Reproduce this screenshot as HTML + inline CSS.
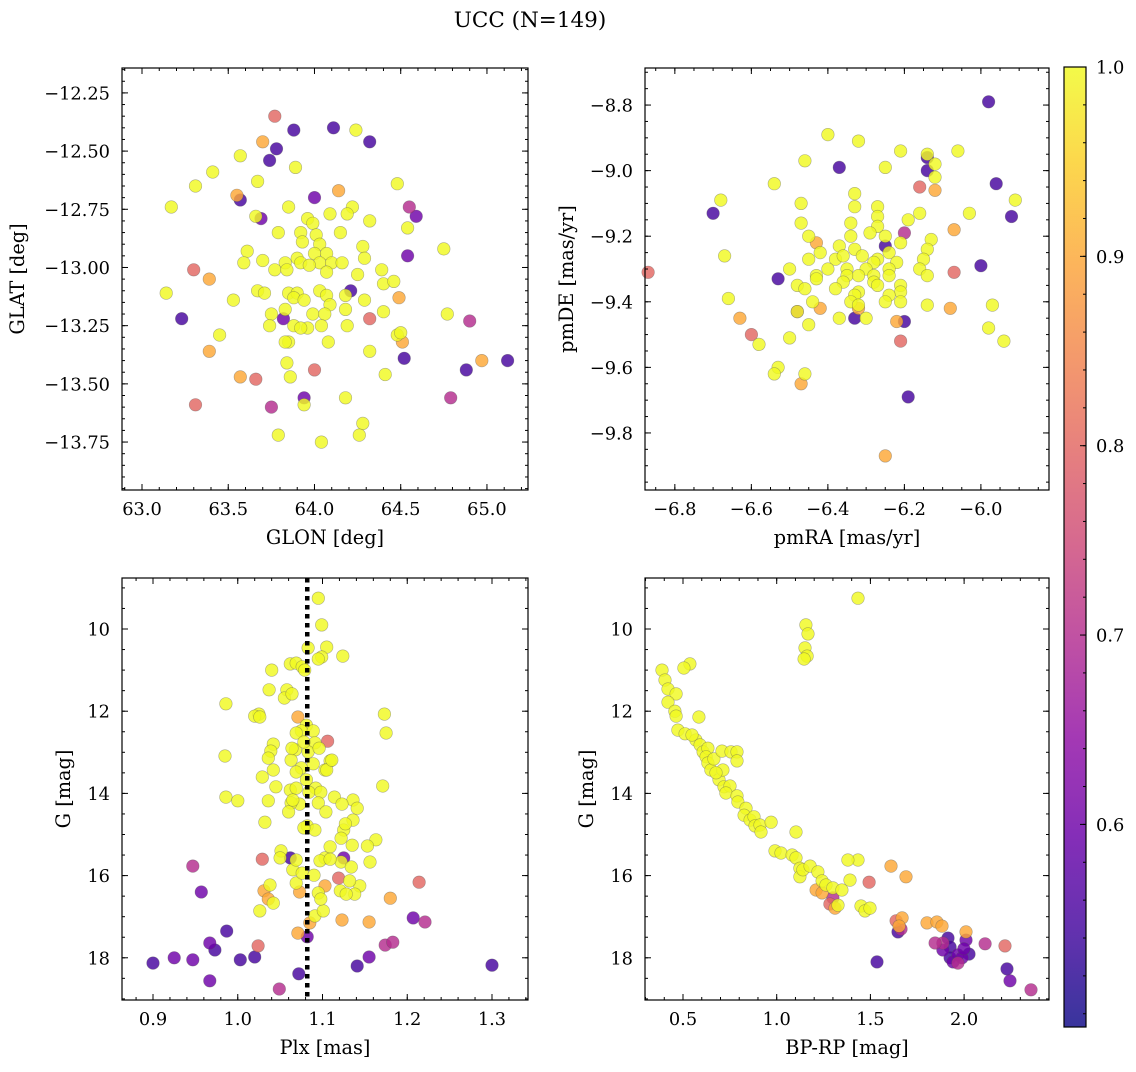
<!DOCTYPE html>
<html><head><meta charset="utf-8"><style>
html,body{margin:0;padding:0;background:#fff;}
svg text{font-family:"DejaVu Serif","Liberation Serif",serif;fill:#000;}
</style></head><body>
<svg id="fig" width="1136" height="1067" viewBox="0 0 1136 1067" xmlns="http://www.w3.org/2000/svg">
<text x="530" y="27" font-size="21.5" text-anchor="middle">UCC (N=149)</text>
</svg>
<script>
// ---- Panel 1: GLON / GLAT ----
const glon1=[63.77,63.88,64.11,64.24,64.32,63.70,63.78,63.74,63.57,63.41,
63.89,63.31,63.67,64.48,63.55,63.57,64.14,64.00,63.17,63.85,
64.22,64.09,64.19,64.55,64.59,63.66,63.69,63.96,64.54,63.99,
64.32,63.92,64.15,64.01,63.79,63.61,63.93,64.03,64.28,64.75,
64.29,64.07,63.90,64.00,63.92,64.03,64.10,64.16,64.54,63.59,
63.70,63.83,63.97,63.77,64.07,63.30,63.39,64.25,64.39,64.40,
64.46,64.21,64.18,63.67,63.71,63.85,63.90,64.03,64.07,63.14,
63.53,63.88,63.94,64.09,64.29,64.49,63.75,63.83,63.99,64.06,
64.18,64.40,63.82,63.23,64.32,64.77,64.90,63.45,63.74,63.88,
63.96,64.04,64.19,63.85,64.08,64.32,64.48,64.50,63.83,63.39,
64.51,64.52,63.84,64.00,63.66,63.57,63.86,64.41,64.88,64.97,
65.12,63.94,63.94,63.75,63.31,64.18,64.79,64.28,64.26,63.79,
64.04,63.92,63.84];
const glat1=[-12.35,-12.41,-12.40,-12.41,-12.46,-12.46,-12.49,-12.54,-12.52,-12.59,
-12.57,-12.65,-12.63,-12.64,-12.69,-12.71,-12.67,-12.70,-12.74,-12.74,
-12.74,-12.77,-12.77,-12.74,-12.78,-12.78,-12.79,-12.79,-12.83,-12.81,
-12.80,-12.85,-12.85,-12.86,-12.85,-12.93,-12.89,-12.90,-12.91,-12.92,
-12.96,-12.94,-12.96,-12.94,-12.98,-12.98,-12.98,-12.98,-12.95,-12.98,
-12.97,-12.98,-12.99,-13.01,-13.02,-13.01,-13.05,-13.03,-13.01,-13.07,
-13.06,-13.10,-13.12,-13.10,-13.11,-13.11,-13.11,-13.10,-13.12,-13.11,
-13.14,-13.13,-13.14,-13.16,-13.14,-13.13,-13.20,-13.18,-13.20,-13.20,
-13.18,-13.19,-13.22,-13.22,-13.22,-13.20,-13.23,-13.29,-13.25,-13.25,
-13.26,-13.25,-13.25,-13.32,-13.32,-13.36,-13.29,-13.28,-13.32,-13.36,
-13.32,-13.39,-13.41,-13.44,-13.48,-13.47,-13.47,-13.46,-13.44,-13.40,
-13.40,-13.56,-13.59,-13.60,-13.59,-13.56,-13.56,-13.67,-13.72,-13.72,
-13.75,-13.26,-13.01];
const prob1=[0.8,0.55,0.55,1,0.55,0.9,0.55,0.55,1,1,
1,1,1,1,0.9,0.55,0.9,0.6,1,1,
1,1,1,0.7,0.6,1,0.6,1,1,1,
1,1,1,1,1,1,1,1,1,1,
1,1,1,1,1,1,1,1,0.6,1,
1,1,1,1,1,0.8,0.9,1,1,1,
1,0.55,1,1,1,1,1,1,1,1,
1,1,1,1,1,0.9,1,1,1,1,
1,1,0.6,0.55,0.8,1,0.7,1,1,1,
1,1,1,1,1,1,1,1,1,0.9,
0.9,0.55,1,0.8,0.8,0.9,1,1,0.55,0.9,
0.55,0.6,1,0.7,0.8,1,0.7,1,1,1,
1,1,1];
// ---- Panel 2: pmRA / pmDE ----
const pmra2=[-5.98,-6.40,-6.06,-6.32,-6.14,-6.21,-6.46,-6.25,-6.37,-6.14,
-6.14,-6.12,-6.12,-5.96,-6.54,-6.12,-6.33,-6.16,-6.68,-6.70,
-5.91,-6.47,-6.33,-6.27,-6.16,-6.03,-5.92,-6.27,-6.19,-6.34,
-6.47,-6.27,-6.07,-6.20,-6.45,-6.34,-6.29,-6.25,-6.21,-6.43,
-6.13,-6.14,-6.37,-6.25,-6.33,-6.24,-6.42,-6.31,-6.27,-6.38,
-6.36,-6.67,-6.45,-6.28,-6.22,-6.15,-6.35,-6.24,-6.16,-6.30,
-6.40,-6.07,-6.00,-6.87,-6.50,-6.43,-6.35,-6.32,-6.28,-6.24,
-6.14,-6.53,-6.43,-6.48,-6.36,-6.28,-6.21,-6.46,-6.38,-6.32,
-6.27,-6.21,-6.66,-6.33,-6.24,-6.44,-6.34,-6.42,-6.48,-6.32,
-6.25,-6.21,-6.14,-6.08,-5.97,-6.32,-6.48,-6.33,-6.30,-6.63,
-6.20,-6.22,-6.45,-5.98,-6.37,-6.60,-6.50,-6.21,-6.58,-5.94,
-6.53,-6.54,-6.46,-6.47,-6.19,-6.25];
const pmde2=[-8.79,-8.89,-8.94,-8.91,-8.95,-8.94,-8.97,-8.99,-8.99,-8.96,
-9.00,-8.98,-9.02,-9.04,-9.04,-9.06,-9.07,-9.05,-9.09,-9.13,
-9.09,-9.10,-9.11,-9.11,-9.13,-9.13,-9.14,-9.14,-9.15,-9.16,
-9.16,-9.17,-9.18,-9.19,-9.20,-9.20,-9.19,-9.20,-9.22,-9.22,
-9.21,-9.24,-9.23,-9.23,-9.24,-9.25,-9.25,-9.26,-9.27,-9.27,
-9.26,-9.26,-9.27,-9.28,-9.28,-9.27,-9.30,-9.30,-9.30,-9.30,
-9.30,-9.31,-9.29,-9.31,-9.30,-9.32,-9.32,-9.32,-9.32,-9.32,
-9.32,-9.33,-9.33,-9.35,-9.34,-9.34,-9.35,-9.36,-9.36,-9.37,
-9.35,-9.37,-9.39,-9.38,-9.38,-9.40,-9.40,-9.42,-9.43,-9.41,
-9.40,-9.40,-9.41,-9.42,-9.41,-9.42,-9.43,-9.45,-9.45,-9.45,
-9.46,-9.46,-9.47,-9.48,-9.45,-9.50,-9.51,-9.52,-9.53,-9.52,
-9.60,-9.62,-9.62,-9.65,-9.69,-9.87];
const prob2=[0.55,1,1,1,1,1,1,1,0.55,0.55,
0.55,1,1,0.55,1,0.9,1,0.8,1,0.55,
1,1,1,1,1,1,0.55,1,1,1,
1,1,0.9,0.7,1,1,1,1,1,0.9,
1,1,1,0.55,1,1,1,1,1,1,
1,1,1,1,1,1,1,1,1,1,
1,0.8,0.55,0.8,1,1,1,1,1,1,
1,0.55,1,1,1,1,1,1,1,1,
1,1,1,1,1,1,1,0.9,1,1,
1,1,1,0.9,1,0.9,0.7,0.55,1,0.9,
0.55,0.9,1,1,1,0.8,1,0.8,1,1,
1,1,1,0.9,0.55,0.9];
// ---- Panel 3: Plx / G ----
const plx3=[1.095,1.099,1.083,1.105,1.124,1.099,1.095,1.040,1.062,1.069,
1.076,1.058,1.055,1.064,1.037,0.986,1.025,1.020,1.026,1.071,
1.173,1.081,1.175,1.075,1.089,1.042,1.091,1.068,1.039,1.083,
1.096,1.063,0.985,1.042,1.075,1.069,1.089,1.106,1.109,1.103,
1.081,1.062,1.092,1.045,1.069,1.084,1.098,1.171,1.136,1.095,
1.036,1.073,1.063,1.104,1.141,1.032,1.082,1.125,1.136,1.091,
1.078,1.122,0.986,1.000,1.029,1.036,1.079,1.064,1.069,1.078,
1.060,1.065,1.114,1.123,1.105,1.111,1.127,1.135,1.122,1.134,
1.144,1.138,1.163,1.153,1.156,1.132,1.029,1.031,1.036,1.038,
1.042,1.026,1.062,1.051,1.050,1.069,1.065,1.069,1.076,1.073,
1.071,1.082,1.085,1.091,1.095,1.090,1.101,1.098,1.103,1.103,
1.097,1.109,1.109,1.119,1.125,1.121,1.128,1.123,1.155,1.180,
1.141,1.155,1.174,1.183,1.207,1.221,1.214,1.300,0.900,0.925,
0.947,0.947,0.957,0.967,0.973,0.967,0.987,1.003,1.020,1.024,
1.049,1.072];
const g3=[9.25,9.90,10.46,10.44,10.66,10.68,10.73,11.00,10.85,10.83,
10.92,11.48,11.68,11.58,11.48,11.82,12.07,12.12,12.14,12.14,
12.07,12.34,12.53,12.48,12.48,12.80,12.77,12.94,12.97,12.99,
12.90,13.19,13.09,13.43,13.38,13.48,13.28,12.73,13.21,13.43,
13.67,13.92,13.87,13.84,13.87,13.97,13.97,13.82,14.16,14.23,
14.18,14.26,14.23,14.45,14.36,14.70,14.79,14.89,14.65,14.89,
14.84,15.09,14.09,14.18,13.60,13.14,11.00,12.90,12.53,12.75,
14.45,14.16,14.09,14.26,13.43,13.19,14.74,15.26,15.67,15.79,
16.25,16.45,15.13,15.28,15.67,16.13,15.60,16.37,16.57,16.23,
16.67,16.86,15.57,15.40,15.57,16.18,15.86,15.62,15.94,16.40,
17.40,17.49,17.15,16.98,16.42,15.99,16.86,16.57,16.25,15.57,
15.64,15.30,15.60,16.06,15.57,16.37,16.45,17.08,17.13,16.55,
18.20,17.98,17.69,17.62,17.03,17.13,16.16,18.18,18.13,18.00,
18.05,15.77,16.40,17.64,17.81,18.56,17.35,18.05,17.98,17.71,
18.76,18.39];
const prob3=[1,1,1,1,1,1,1,1,1,1,
1,1,1,1,1,1,1,1,1,0.9,
1,1,1,1,1,1,1,1,1,1,
1,1,1,1,1,1,1,0.8,1,1,
1,1,1,1,1,1,1,1,1,1,
1,1,1,1,1,1,1,1,1,1,
1,1,1,1,1,1,1,1,1,1,
1,1,1,1,1,1,1,1,1,1,
1,1,1,1,1,1,0.8,0.9,0.9,1,
1,1,0.55,1,1,1,1,1,1,0.9,
0.9,0.6,0.9,1,1,1,1,1,0.9,1,
1,1,1,0.8,0.6,1,1,0.9,0.9,0.9,
0.55,0.6,0.7,0.7,0.6,0.7,0.8,0.55,0.55,0.6,
0.6,0.7,0.6,0.6,0.55,0.6,0.55,0.55,0.55,0.8,
0.7,0.55];
const plxLine=1.082;
// ---- Panel 4: BP-RP / G ----
const bprp4=[1.434,1.156,1.167,1.151,1.162,1.146,0.388,0.537,0.505,0.404,
0.420,0.463,0.420,0.457,0.463,0.585,0.473,0.511,0.569,0.548,
0.591,0.607,0.633,0.623,0.633,0.649,0.665,0.708,0.756,0.788,
0.788,0.692,0.713,0.676,0.719,0.751,0.729,0.788,0.793,0.836,
0.826,0.858,0.879,0.884,0.911,0.916,0.970,0.991,1.023,1.082,
1.103,1.124,1.124,1.140,1.178,1.103,1.220,1.242,1.263,1.300,
1.348,1.391,1.434,1.380,1.210,1.242,1.284,1.311,1.327,1.300,
1.493,1.610,1.690,1.450,1.471,1.498,1.637,1.669,1.653,1.663,
1.647,1.535,1.802,1.855,1.882,1.887,1.845,1.887,1.914,1.925,
1.925,1.941,1.967,1.989,1.967,2.010,2.112,2.026,2.010,2.218,
2.229,2.245,2.357,1.999];
const g4=[9.25,9.90,10.12,10.46,10.66,10.73,11.00,10.85,10.95,11.24,
11.46,11.58,11.78,12.00,12.12,12.14,12.46,12.55,12.70,12.58,
12.82,12.99,12.90,13.11,13.26,13.43,13.16,12.97,12.99,12.99,
13.21,13.67,13.43,13.50,13.84,13.82,13.99,14.06,14.21,14.36,
14.53,14.65,14.57,14.79,14.77,14.94,14.70,15.40,15.45,15.50,
15.57,15.82,16.03,15.86,15.77,14.94,15.91,16.13,16.23,16.30,
16.35,16.11,15.62,15.62,16.35,16.42,16.69,16.79,16.72,16.54,
16.16,15.77,16.03,16.74,16.86,16.79,17.10,17.03,17.23,17.30,
17.37,18.10,17.15,17.13,17.23,17.64,17.64,17.81,17.52,17.74,
18.00,18.10,17.93,18.00,18.13,17.57,17.66,17.91,17.37,17.71,
18.27,18.56,18.78,17.78];
const prob4=[1,1,1,1,1,1,1,1,1,1,
1,1,1,1,1,1,1,1,1,1,
1,1,1,1,1,1,1,1,1,1,
1,1,1,1,1,1,1,1,1,1,
1,1,1,1,1,1,1,1,1,1,
1,1,1,1,1,1,1,1,1,1,
1,1,1,1,0.9,0.9,0.8,0.9,1,0.7,
0.8,0.9,0.9,1,1,1,0.8,0.9,0.9,0.7,
0.55,0.55,0.9,0.9,0.9,0.7,0.7,0.6,0.55,0.55,
0.55,0.6,0.6,0.6,0.7,0.6,0.7,0.55,0.9,0.8,
0.55,0.6,0.7,0.6];
// ---- colour scale ----
const cTicks=[0.6,0.7,0.8,0.9,1.0];
const cMin=0.493, cMax=1.0;

const NS='http://www.w3.org/2000/svg';
const svg=document.getElementById('fig');
const plasma=[[13,8,135],[65,4,157],[106,0,168],[143,13,164],[177,42,144],[204,71,120],[225,100,98],[242,132,75],[252,166,54],[252,206,37],[240,249,33]];
function cmap(v){let t=(v-cMin)/(cMax-cMin);t=Math.max(0,Math.min(1,t))*10;const i=Math.min(9,Math.floor(t)),f=t-i;const a=plasma[i],b=plasma[i+1];return 'rgb('+a.map((c,k)=>Math.round(c+(b[k]-c)*f)).join(',')+')';}
function mk(tag,attrs,parent){const e=document.createElementNS(NS,tag);for(const k in attrs)e.setAttribute(k,attrs[k]);(parent||svg).appendChild(e);return e;}
function fmt(v,d){const s=Math.abs(v).toFixed(d);return (v<-1e-9?'\u2212':'')+s;}
const TF=17.8, LF=19.3;

function panel(p){
  const g=mk('g',{});
  
  
  const [L,T,R,B]=p.box;
  const sx=v=>L+(v-p.xlim[0])/(p.xlim[1]-p.xlim[0])*(R-L);
  const sy=v=>T+(v-p.ylim[0])/(p.ylim[1]-p.ylim[0])*(B-T);
  const idx=p.xs.map((_,i)=>i).filter(i=>i<p.ys.length&&i<p.cs.length);
  idx.sort((a,b)=>p.cs[a]-p.cs[b]);
  idx.forEach(i=>{
    const c=mk('circle',{cx:sx(p.xs[i]).toFixed(1),cy:sy(p.ys[i]).toFixed(1),r:6.3,fill:cmap(p.cs[i]),'fill-opacity':0.82,stroke:'#555','stroke-opacity':0.45,'stroke-width':0.6},g);
    
    
  });
  if(p.vline!==undefined){
    const l=mk('line',{x1:sx(p.vline),x2:sx(p.vline),y1:T,y2:B,stroke:'#000','stroke-width':4.5,'stroke-dasharray':'4.5,4.5'},g);
    
    
  }
  const fr=mk('rect',{x:L,y:T,width:R-L,height:B-T,fill:'none',stroke:'#000','stroke-width':1.2},g);
  
  
  const tk=(x1,y1,x2,y2)=>mk('line',{x1,y1,x2,y2,stroke:'#000','stroke-width':1},g);
  function eachTick(lo,hi,step,cb){const a=Math.min(lo,hi),b=Math.max(lo,hi);for(let k=Math.ceil(a/step-1e-6);k*step<=b+1e-9;k++)cb(k*step);}
  eachTick(p.xlim[0],p.xlim[1],p.xminor,v=>{const x=sx(v);tk(x,B,x,B-3);tk(x,T,x,T+3);});
  eachTick(p.ylim[0],p.ylim[1],p.yminor,v=>{const y=sy(v);tk(L,y,L+3,y);tk(R,y,R-3,y);});
  eachTick(p.xlim[0],p.xlim[1],p.xmajor,v=>{const x=sx(v);tk(x,B,x,B-6);tk(x,T,x,T+6);
    const t=mk('text',{x:x,y:B+25,'font-size':TF,'text-anchor':'middle'},g);t.textContent=fmt(v,p.xd);
    
    });
  eachTick(p.ylim[0],p.ylim[1],p.ymajor,v=>{const y=sy(v);tk(L,y,L+6,y);tk(R,y,R-6,y);
    const t=mk('text',{x:L-12,y:y+6.5,'font-size':TF,'text-anchor':'end'},g);t.textContent=fmt(v,p.yd);
    
    });
  const xl=mk('text',{x:(L+R)/2,y:B+54,'font-size':LF,'text-anchor':'middle'},g);xl.textContent=p.xlabel;
  
  
  const yl=mk('text',{x:0,y:0,'font-size':LF,'text-anchor':'middle',transform:`translate(${p.ylx},${(T+B)/2}) rotate(-90)`},g);yl.textContent=p.ylabel;
  
  
}

panel({name:'glon-glat-panel',box:[122,68,528,490],xlim:[62.884,65.238],ylim:[-12.143,-13.956],xmajor:0.5,xminor:0.1,ymajor:0.25,yminor:0.05,xd:1,yd:2,xs:glon1,ys:glat1,cs:prob1,xlabel:'GLON [deg]',ylabel:'GLAT [deg]',ylx:24});
panel({name:'proper-motion-panel',box:[645,68,1049,490],xlim:[-6.878,-5.822],ylim:[-8.687,-9.974],xmajor:0.2,xminor:0.05,ymajor:0.2,yminor:0.05,xd:1,yd:1,xs:pmra2,ys:pmde2,cs:prob2,xlabel:'pmRA [mas/yr]',ylabel:'pmDE [mas/yr]',ylx:573});
panel({name:'parallax-mag-panel',box:[122,578,528,1000],xlim:[0.8634,1.3425],ylim:[8.759,19.027],xmajor:0.1,xminor:0.02,ymajor:2,yminor:0.5,xd:1,yd:0,xs:plx3,ys:g3,cs:prob3,vline:plxLine,xlabel:'Plx [mas]',ylabel:'G [mag]',ylx:70});
panel({name:'cmd-panel',box:[645,578,1049,1000],xlim:[0.2972,2.453],ylim:[8.759,19.027],xmajor:0.5,xminor:0.1,ymajor:2,yminor:0.5,xd:1,yd:0,xs:bprp4,ys:g4,cs:prob4,xlabel:'BP-RP [mag]',ylabel:'G [mag]',ylx:593});

(function(){
  const L=1064,R=1086,T=67,B=1027;
  const defs=mk('defs',{});
  const lg=mk('linearGradient',{id:'cbg',x1:0,y1:1,x2:0,y2:0},defs);
  for(let i=0;i<=20;i++){const v=cMin+(cMax-cMin)*i/20;mk('stop',{offset:(i/20).toFixed(3),'stop-color':cmap(v)},lg);}
  const g=mk('g',{});
  
  
  mk('rect',{x:L,y:T,width:R-L,height:B-T,fill:'url(#cbg)','fill-opacity':0.82},g);
  mk('rect',{x:L,y:T,width:R-L,height:B-T,fill:'none',stroke:'#000','stroke-width':1.2},g);
  const sy=v=>B-(v-cMin)/(cMax-cMin)*(B-T);
  for(let k=Math.ceil(cMin/0.02);k*0.02<=cMax+1e-9;k++){const y=sy(k*0.02);mk('line',{x1:R,x2:R-3,y1:y,y2:y,stroke:'#000','stroke-width':1},g);}
  cTicks.forEach(v=>{const y=sy(v);mk('line',{x1:R,x2:R-6,y1:y,y2:y,stroke:'#000','stroke-width':1},g);
    const t=mk('text',{x:R+10,y:y+6.5,'font-size':TF},g);t.textContent=v.toFixed(1);
    
    });
})();
</script>
</body></html>
